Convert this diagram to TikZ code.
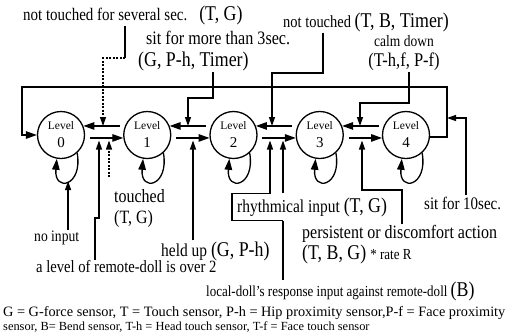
\documentclass[tikz,border=0pt]{standalone}
\usepackage{fontspec}
\setmainfont{Liberation Serif}[FakeStretch=0.85]
\newfontfamily\plainfont{Liberation Serif}
\usetikzlibrary{arrows.meta}
\newcommand{\pl}[1]{{\fontsize{21}{22}\selectfont #1}}
\begin{document}
\begin{tikzpicture}[x=1pt,y=1pt,
  wire/.style={line width=1.3pt},
  dwire/.style={line width=1.1pt,dash pattern=on 2pt off 1.5pt},
  arr/.style={-{Triangle[length=11pt,width=7.5pt]}},
  sarr/.style={-{Triangle[length=9pt,width=6pt]}},
  lvl/.style={draw,circle,line width=1.3pt,minimum size=47pt,inner sep=0pt,
    align=center,font=\plainfont\fontsize{11.5}{18}\selectfont},
  lbl/.style={inner sep=1pt,anchor=west,font=\fontsize{17.6}{20}\selectfont}]
  \useasboundingbox (0,0) rectangle (507,-333);
  % levels
  \foreach \i in {0,...,4}
    \node[lvl] (L\i) at (61+86.25*\i,-135) {Level\\{\fontsize{15}{18}\selectfont\i}};
  \foreach \i/\j in {0/1,1/2,2/3,3/4}{
    \draw[wire,arr] ([xshift=5pt]L\i.-7) -- (L\j.187);
    \draw[wire,arr] ([xshift=-5pt]L\j.158) -- (L\i.22);
  }
  \foreach \i in {0,...,4}
    \draw[wire,arr] (L\i.-48) .. controls +(-80:34) and +(-95:34) .. (L\i.-100)
      coordinate[pos=0.5] (lp\i);
  % back to level 0
  \coordinate (fbR) at (447,-87);
  \coordinate (fbL) at (22,-87);
  \draw[wire,arr] (L4.-5) -| (fbR) -- (fbL) |- (L0.west);
  % labels
  \node[lbl] (ntA) at (22,-15) {not touched for several sec.\hspace{12pt}\pl{(T, G)}};
  \node[lbl,align=left,font=\fontsize{19}{22}\selectfont] (sit) at (137,-51)
    {\hspace*{8pt}sit for more than 3sec.\\\pl{(G, P-h, Timer)}};
  \node[lbl,font=\fontsize{17}{20}\selectfont] (ntB) at (282,-22) {not touched \pl{(T, B, Timer)}};
  \node[lbl,anchor=center,align=center,font=\fontsize{15.9}{20}\selectfont] (calm) at (404,-53)
    {calm down\\{\fontsize{19.4}{20}\selectfont(T-h,f, P-f)}};
  \node[lbl,align=left,font=\fontsize{18.8}{21}\selectfont] (tch) at (113,-208) {touched\\(T, G)};
  \node[lbl,font=\fontsize{16}{18}\selectfont] (nin) at (33,-238) {no input};
  \node[lbl,font=\fontsize{17.2}{18}\selectfont] (rem) at (35,-267) {a level of remote-doll is over 2};
  \node[lbl,font=\fontsize{18.2}{20}\selectfont] (held) at (160,-251) {held up \pl{(G, P-h)}};
  \node[lbl,inner xsep=5pt,minimum height=27pt,font=\fontsize{18.2}{20}\selectfont] (rhy) at (232,-207)
    {rhythmical input \pl{(T, G)}};
  \node[lbl,align=left,font=\fontsize{18.8}{21}\selectfont] (per) at (301,-245)
    {persistent or discomfort action\\\pl{(T, B, G)} {\fontsize{15.3}{21}\selectfont * rate R}};
  \node[lbl] (s10) at (423,-203) {sit for 10sec.};
  \node[lbl,font=\fontsize{15.3}{18}\selectfont] (loc) at (205,-291)
    {local-doll's response input against remote-doll \pl{(B)}};
  \node[lbl,font=\plainfont\fontsize{14.3}{16}\selectfont] (legA) at (2,-313)
    {G = G-force sensor, T = Touch sensor, P-h = Hip proximity sensor,P-f = Face proximity};
  \node[lbl,font=\plainfont\fontsize{12.4}{14}\selectfont] (legB) at (2,-327)
    {sensor, B= Bend sensor, T-h = Head touch sensor, T-f = Face touch sensor};
  % inputs from above
  \coordinate (ka) at (125,-58);  \coordinate (ia) at (103,-126);
  \draw[wire] (ntA.south -| ka) -- (ka);
  \draw[dwire,sarr] (ka) -| (ia);
  \coordinate (kb) at (213,-98);  \coordinate (ib) at (188,-126);
  \draw[wire,sarr] (sit.south -| kb) -- (kb) -| (ib);
  \coordinate (kc) at (323,-73);  \coordinate (ic) at (272,-126);
  \draw[wire,sarr] (ntB.south -| kc) -- (kc) -| (ic);
  \coordinate (kd) at (409,-103); \coordinate (id) at (360,-126);
  \draw[wire,sarr] (calm.south -| kd) -- (kd) -| (id);
  % inputs from below
  \coordinate (kf) at (95,-218);  \coordinate (if) at (99,-140.5);
  \draw[wire,sarr] (rem.north -| kf) -- (kf) -| (if);
  \coordinate (kg) at (109,-177); \coordinate (ig) at (109,-140.5);
  \draw[dwire,sarr] (kg) -- (ig);
  \coordinate (ih) at (193,-140.5);
  \draw[wire,sarr] (held.north -| ih) -- (ih);
  \coordinate (ii) at (270,-140.5); \coordinate (ij) at (283,-140.5);
  \draw[wire,sarr] (rhy.south -| ij) -- (rhy.south west) -- (rhy.north west) -| (ii);
  \draw[wire] (loc.north -| ij) -- (rhy.south -| ij);
  \draw[wire,sarr] (rhy.north -| ij) -- (ij);
  \coordinate (kk) at (402,-190); \coordinate (ik) at (362,-140.5);
  \draw[wire,sarr] (per.north -| kk) -- (kk) -| (ik);
  \coordinate (kl) at (466,-118); \coordinate (il) at (447,-118);
  \draw[wire,sarr] (s10.north -| kl) -- (kl) -- (il);
  \draw[wire,sarr] (nin.north -| lp0) -- (lp0);
\end{tikzpicture}
\end{document}
